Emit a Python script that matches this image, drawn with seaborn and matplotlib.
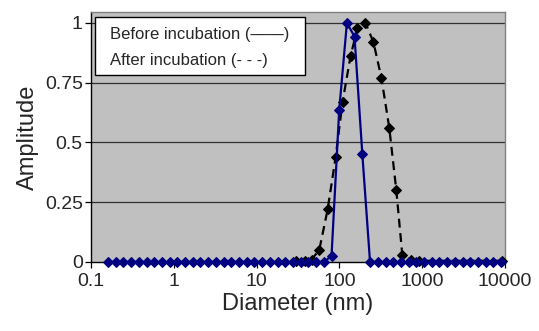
import numpy as np
import pandas as pd
import matplotlib
matplotlib.use("Agg")
import matplotlib.pyplot as plt
from matplotlib.patches import Rectangle
import seaborn as sns

# before incubation (blue, solid)
before_d = [0.160, 0.198, 0.245, 0.304, 0.377, 0.467, 0.579, 0.717, 0.889, 1.10,
            1.36, 1.69, 2.09, 2.59, 3.21, 3.99, 4.94, 6.12, 7.58, 9.39,
            11.6, 14.4, 17.9, 22.1, 27.4, 34.0, 42.1, 52.2, 64.7, 80.2,
            99.3, 123, 152, 189, 234, 290, 360, 446, 552, 684,
            847, 1050, 1300, 1610, 2000, 2470, 3070, 3800, 4710, 5830,
            7230, 8950]
before_amp = [0, 0, 0, 0, 0, 0, 0, 0, 0, 0,
              0, 0, 0, 0, 0, 0, 0, 0, 0, 0,
              0, 0, 0, 0, 0, 0, 0, 0, 0, 0.025,
              0.636, 1.0, 0.943, 0.45, 0, 0, 0, 0, 0, 0,
              0, 0, 0, 0, 0, 0, 0, 0, 0, 0,
              0, 0]

# after incubation (black, dashed)
after_d = [30, 38, 46, 57, 72, 90, 109, 136, 165, 206, 257, 321, 400, 486,
           574, 737, 920, 9120]
after_amp = [0.005, 0.005, 0.01, 0.05, 0.22, 0.44, 0.67, 0.86, 0.98, 1.0,
             0.92, 0.77, 0.56, 0.30, 0.03, 0.01, 0.005, 0.005]

x_ticks = [0.1, 1, 10, 100, 1000, 10000]
x_labels = ["0.1", "1", "10", "100", "1000", "10000"]
y_ticks = [0, 0.25, 0.5, 0.75, 1]
y_labels = ["0", "0.25", "0.5", "0.75", "1"]
legend_lines = ["Before incubation (\u2014\u2014)", "After incubation (- - -)"]

sns.set_theme(style="ticks")
plt.rcParams["font.family"] = ["Liberation Sans", "DejaVu Sans"]

fig = plt.figure(figsize=(5.39, 3.31), dpi=100)
ax = fig.add_axes([0.169, 0.2085, 0.768, 0.7555])
ax.set_facecolor("#c0c0c0")

for y in y_ticks[1:]:
    ax.axhline(y, color="#303030", lw=0.9, zorder=1)

after_df = pd.DataFrame({"d": after_d, "amp": after_amp})
before_df = pd.DataFrame({"d": before_d, "amp": before_amp})

sns.lineplot(data=after_df, x="d", y="amp", ax=ax, color="black",
             linestyle=(0, (4, 2.5)), lw=1.6, marker="D", markersize=4.6,
             markeredgecolor="black", clip_on=False, zorder=3, sort=False)
sns.lineplot(data=before_df, x="d", y="amp", ax=ax, color="#000080",
             lw=1.6, marker="D", markersize=4.6, markeredgecolor="#000080",
             clip_on=False, zorder=4, sort=False)

ax.set_xscale("log")
ax.set_xlim(0.1, 10000)
ax.set_ylim(0, 1.046)
ax.set_xticks(x_ticks)
ax.set_xticklabels(x_labels)
ax.xaxis.set_minor_locator(matplotlib.ticker.NullLocator())
ax.set_yticks(y_ticks)
ax.set_yticklabels(y_labels)
ax.tick_params(axis="both", labelsize=14, length=4, width=0.9, color="black",
               direction="out", pad=2)
ax.tick_params(axis="x", pad=4)

for side in ["top", "right"]:
    ax.spines[side].set_visible(True)
    ax.spines[side].set_color("#808080")
    ax.spines[side].set_linewidth(1)
for side in ["left", "bottom"]:
    ax.spines[side].set_color("black")
    ax.spines[side].set_linewidth(1)

ax.set_xlabel("Diameter (nm)", fontsize=17, labelpad=2)
ax.set_ylabel("Amplitude", fontsize=17, labelpad=4)

# legend box drawn as a plain rectangle with two text lines
ax.add_patch(Rectangle((0.01, 0.748), 0.507, 0.232, transform=ax.transAxes,
                       facecolor="white", edgecolor="black", lw=1, zorder=6))
ax.text(0.046, 0.91, legend_lines[0], transform=ax.transAxes, fontsize=12,
        va="center", ha="left", zorder=7)
ax.text(0.046, 0.806, legend_lines[1], transform=ax.transAxes, fontsize=12,
        va="center", ha="left", zorder=7)

if ax.get_legend():
    ax.get_legend().remove()

fig.savefig("out.png", dpi=100)
